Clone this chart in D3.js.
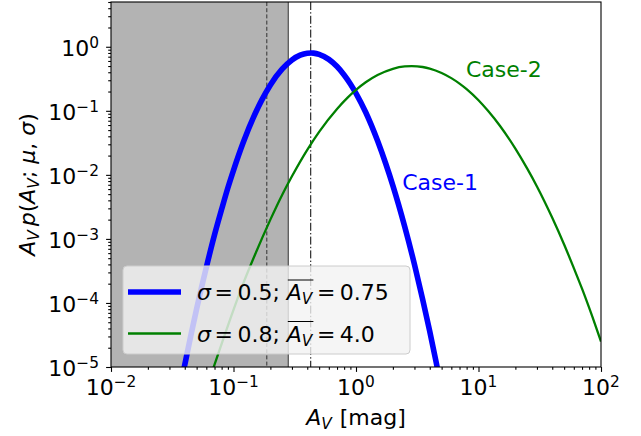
<!DOCTYPE html>
<html>
<head>
<meta charset="utf-8">
<script src="https://cdn.jsdelivr.net/npm/d3@7"></script>
<style>
  body { margin: 0; background: #fff; }
  svg text { font-family: 'DejaVu Sans', sans-serif; }
</style>
</head>
<body>
<div id="chart"></div>
<script>
// case 1: sigma = 0.5, mean A_V = 0.75
var case1X = [0.038, 0.04, 0.045, 0.05, 0.055, 0.06, 0.07, 0.08, 0.09, 0.1, 0.12, 0.15, 0.17, 0.2, 0.25, 0.3, 0.35, 0.4, 0.43, 0.45, 0.5, 0.6, 0.7, 0.8, 0.9, 1.0, 1.2, 1.5, 1.75, 2, 2.5, 3, 3.5, 4, 4.5, 5];
var case1Y = [6.6e-6, 1.08e-5, 3.2e-5, 8.1e-5, 1.8e-4, 3.6e-4, 1.16e-3, 2.9e-3, 6.3e-3, 0.0118, 0.032, 0.090, 0.147, 0.254, 0.451, 0.624, 0.739, 0.793, 0.8, 0.796, 0.761, 0.635, 0.491, 0.363, 0.263, 0.188, 0.095, 0.034, 0.0149, 0.0068, 1.55e-3, 4.0e-4, 1.14e-4, 3.6e-5, 1.22e-5, 4.4e-6];

// case 2: sigma = 0.8, mean A_V = 4.0
var case2X = [0.065, 0.07, 0.08, 0.1, 0.12, 0.15, 0.2, 0.25, 0.3, 0.4, 0.5, 0.7, 0.85, 1, 1.2, 1.5, 2, 2.5, 2.85, 3.5, 4, 5, 6, 7, 8, 10, 12, 15, 20, 25, 30, 40, 50, 60, 70, 85, 100];
var case2Y = [7.1e-6, 1.09e-5, 2.3e-5, 7.8e-5, 2.0e-4, 5.7e-4, 2.0e-3, 4.9e-3, 9.5e-3, 0.0246, 0.047, 0.107, 0.159, 0.212, 0.279, 0.362, 0.453, 0.493, 0.499, 0.483, 0.457, 0.39, 0.324, 0.266, 0.218, 0.146, 0.099, 0.058, 0.0257, 0.0125, 6.6e-3, 2.14e-3, 8.2e-4, 3.5e-4, 1.67e-4, 6.1e-5, 2.5e-5];

var seriesSigma = ['0.5', '0.8'];
var seriesMean = ['0.75', '4.0'];
var caseNames = ['Case-1', 'Case-2'];
var caseLabelX = [2.38, 7.9];
var caseLabelY = [0.0058, 0.34];

// shaded region and vertical markers
var spanRange = [0.01, 0.28];
var dashedAt = 0.187;
var dashDotAt = 0.427;

var xDomain = [1e-2, 1e2];
var yDomain = [1e-5, 5];
var xTickExp = [-2, -1, 0, 1, 2];
var yTickExp = [-5, -4, -3, -2, -1, 0];

(function () {
	var margin = { top: 2, right: 40, bottom: 69, left: 111 };
	var width = 641 - margin.left - margin.right;
	var height = 436 - margin.top - margin.bottom;
	var fontSize = 22;
	var supSize = 15.4;
	var colors = ['#0000ff', '#008000'];
	var lineWidths = [5.6, 2.3];

	var x = d3.scaleLog().domain(xDomain).range([0, width]);
	var y = d3.scaleLog().domain(yDomain).range([height, 0]);

	var svg = d3.select('#chart').append('svg')
		.attr('width', 641).attr('height', 436);
	var g = svg.append('g')
		.attr('transform', 'translate(' + [margin.left, margin.top] + ')');

	g.append('clipPath').attr('id', 'plot-clip')
		.append('rect').attr('width', width).attr('height', height);

	// shaded span
	g.append('rect')
		.attr('x', x(spanRange[0]))
		.attr('width', x(spanRange[1]) - x(spanRange[0]))
		.attr('height', height)
		.attr('fill', '#b3b3b3');
	g.append('line')
		.attr('x1', x(spanRange[1])).attr('x2', x(spanRange[1]))
		.attr('y2', height)
		.attr('stroke', '#4d4d4d').attr('stroke-width', 1.2);

	// vertical markers
	g.append('line')
		.attr('x1', x(dashedAt)).attr('x2', x(dashedAt))
		.attr('y2', height)
		.attr('stroke', '#333').attr('stroke-width', 1)
		.attr('stroke-dasharray', '4,2.2');
	g.append('line')
		.attr('x1', x(dashDotAt)).attr('x2', x(dashDotAt))
		.attr('y2', height)
		.attr('stroke', '#000').attr('stroke-width', 1)
		.attr('stroke-dasharray', '8,2.2,1.4,2.2');

	// curves
	var series = [d3.zip(case1X, case1Y), d3.zip(case2X, case2Y)];
	var line = d3.line()
		.x(d => x(d[0]))
		.y(d => y(d[1]))
		.curve(d3.curveMonotoneX);

	g.append('g').attr('clip-path', 'url(#plot-clip)')
		.selectAll('path')
		.data(series)
		.enter().append('path')
		.attr('fill', 'none')
		.attr('stroke', (d, i) => colors[i])
		.attr('stroke-width', (d, i) => lineWidths[i])
		.attr('d', line);

	// case labels
	g.selectAll('.case')
		.data(caseNames)
		.enter().append('text')
		.classed('case', true)
		.attr('x', (d, i) => x(caseLabelX[i]))
		.attr('y', (d, i) => y(caseLabelY[i]))
		.attr('font-size', fontSize)
		.attr('fill', (d, i) => colors[i])
		.text(d => d);

	// ticks
	var minorX = [], minorY = [];
	d3.range(-2, 2).forEach(e => d3.range(2, 10).forEach(m => minorX.push(m * Math.pow(10, e))));
	d3.range(-5, 1).forEach(e => d3.range(2, 10).forEach(m => {
		var v = m * Math.pow(10, e);
		if (v <= yDomain[1]) minorY.push(v);
	}));

	var axes = [
		d3.axisBottom(x).tickValues(xTickExp.map(e => Math.pow(10, e))).tickSize(4.9),
		d3.axisBottom(x).tickValues(minorX).tickSize(2.8),
		d3.axisLeft(y).tickValues(yTickExp.map(e => Math.pow(10, e))).tickSize(4.9),
		d3.axisLeft(y).tickValues(minorY).tickSize(2.8)
	];
	axes.forEach((ax, i) => {
		var a = g.append('g')
			.attr('transform', i < 2 ? 'translate(0,' + height + ')' : null)
			.call(ax.tickFormat(''));
		a.select('.domain').remove();
		a.selectAll('line').attr('stroke', '#000').attr('stroke-width', 1.1);
	});

	// frame
	g.append('rect')
		.attr('width', width).attr('height', height)
		.attr('fill', 'none')
		.attr('stroke', '#000').attr('stroke-width', 1.1);

	// tick labels
	xTickExp.forEach(e => {
		drawRuns(g, [
			{ t: '10' },
			{ t: String(e).replace('-', '\u2212'), size: supSize, dy: -8 }
		], x(Math.pow(10, e)), height + 28, 'middle');
	});
	yTickExp.forEach(e => {
		drawRuns(g, [
			{ t: '10' },
			{ t: String(e).replace('-', '\u2212'), size: supSize, dy: -8 }
		], -12, y(Math.pow(10, e)) + 9, 'end');
	});

	// axis labels
	drawRuns(g, [
		{ t: 'A', it: true },
		{ t: 'V', it: true, size: supSize, dy: 4 },
		{ t: ' [mag]', gap: 1 }
	], width / 2, height + 58, 'middle');

	var yl = g.append('g')
		.attr('transform', 'translate(' + [-76, height / 2] + ') rotate(-90)');
	drawRuns(yl, [
		{ t: 'A', it: true },
		{ t: 'V', it: true, size: supSize, dy: 4 },
		{ t: 'p', it: true, gap: 4 },
		{ t: '(' },
		{ t: 'A', it: true },
		{ t: 'V', it: true, size: supSize, dy: 4 },
		{ t: '; ' },
		{ t: 'μ', it: true },
		{ t: ', ' },
		{ t: 'σ', it: true },
		{ t: ')' }
	], 0, 0, 'middle');

	// legend
	var legend = g.append('g').attr('transform', 'translate(12,264)');
	legend.append('rect')
		.attr('width', 287).attr('height', 88)
		.attr('rx', 4)
		.attr('fill', '#f2f2f2').attr('fill-opacity', 0.8)
		.attr('stroke', '#cccccc').attr('stroke-width', 1);
	seriesSigma.forEach((s, i) => {
		var ly = 26 + i * 41.5;
		legend.append('line')
			.attr('x1', 5).attr('x2', 58)
			.attr('y1', ly).attr('y2', ly)
			.attr('stroke', colors[i])
			.attr('stroke-width', lineWidths[i]);
		drawRuns(legend, [
			{ t: 'σ', it: true },
			{ t: '=', gap: 3.5 },
			{ t: s + '; ', gap: 4.5 },
			{ t: 'A', it: true, over: true },
			{ t: 'V', it: true, size: supSize, dy: 4, over: true },
			{ t: '=', gap: 4.5 },
			{ t: seriesMean[i], gap: 4.5 }
		], 74, ly + 8, 'start');
	});

	// lays out a row of text pieces, mathtext style
	function drawRuns(parent, runs, px, py, anchor) {
		var row = parent.append('g');
		var cx = 0;
		var spans = [];
		runs.forEach(r => {
			cx += r.gap || 0;
			var t = row.append('text')
				.attr('x', cx)
				.attr('y', r.dy || 0)
				.attr('font-size', r.size || fontSize)
				.attr('font-style', r.it ? 'italic' : null)
				.attr('xml:space', 'preserve')
				.style('white-space', 'pre')
				.text(r.t);
			var w = t.node().getComputedTextLength();
			spans.push([cx, cx + w, r]);
			cx += w;
		});
		var over = spans.filter(s => s[2].over);
		if (over.length) {
			row.append('line')
				.attr('x1', over[0][0] + 1).attr('x2', over[over.length - 1][1] + 1)
				.attr('y1', -20).attr('y2', -20)
				.attr('stroke', '#000').attr('stroke-width', 1);
		}
		var shift = anchor === 'middle' ? -cx / 2 : anchor === 'end' ? -cx : 0;
		row.attr('transform', 'translate(' + [px + shift, py] + ')');
		return row;
	}
})();
</script>
</body>
</html>
